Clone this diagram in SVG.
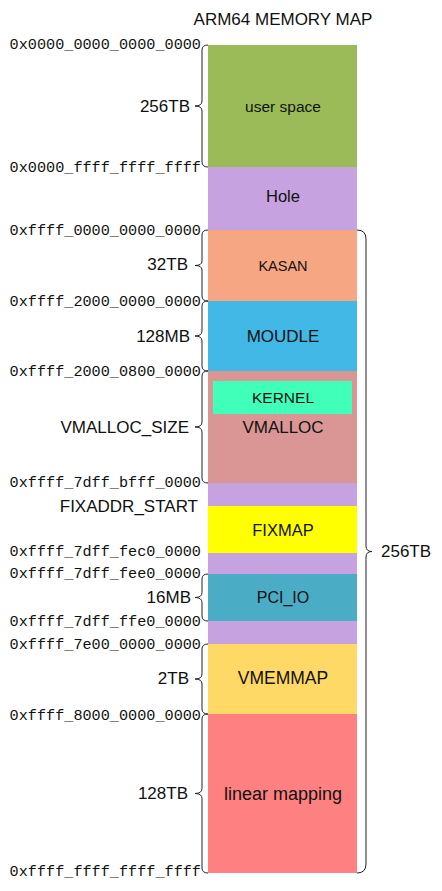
<svg xmlns="http://www.w3.org/2000/svg" width="442" height="891" viewBox="0 0 442 891">
<style>
.addr{font-family:"Liberation Mono","DejaVu Sans Mono",monospace;font-size:15.2px;fill:#111;text-anchor:end}
.size{font-family:"Liberation Sans",Arial,sans-serif;font-size:17px;fill:#111;text-anchor:end}
.lbl{font-family:"Liberation Sans",Arial,sans-serif;font-size:17px;fill:#111;text-anchor:middle}
.title{font-family:"Liberation Sans",Arial,sans-serif;font-size:17px;fill:#111;text-anchor:middle}
.brace{fill:none;stroke:#222;stroke-width:1}
</style>
<rect width="442" height="891" fill="#fff"/>
<text class="title" x="283" y="25">ARM64 MEMORY MAP</text>

<g id="user_space"><rect x="208" y="45" width="149" height="122" fill="#9BBB59"/><text class="lbl" x="283" y="112" style="font-size:15.5px">user space</text></g>
<g id="hole1"><rect x="208" y="167" width="149" height="63" fill="#C6A2E0"/><text class="lbl" x="283" y="202" style="font-size:16.5px">Hole</text></g>
<g id="kasan"><rect x="208" y="230" width="149" height="71" fill="#F7A684"/><text class="lbl" x="283" y="271" style="font-size:14.5px">KASAN</text></g>
<g id="moudle"><rect x="208" y="301" width="149" height="70" fill="#41B8E6"/><text class="lbl" x="283" y="342">MOUDLE</text></g>
<g id="vmalloc"><rect x="208" y="371" width="149" height="112" fill="#D99694"/><text class="lbl" x="283" y="433">VMALLOC</text></g>
<g id="kernel"><rect x="213" y="381" width="139" height="33" fill="#3FFFB9"/><text class="lbl" x="283" y="403" style="font-size:15.5px">KERNEL</text></g>
<g id="gap1"><rect x="208" y="483" width="149" height="23" fill="#C6A2E0"/></g>
<g id="fixmap"><rect x="208" y="506" width="149" height="47" fill="#FFFF00"/><text class="lbl" x="283" y="536" style="font-size:16.5px">FIXMAP</text></g>
<g id="gap2"><rect x="208" y="553" width="149" height="21" fill="#C6A2E0"/></g>
<g id="pci_io"><rect x="208" y="574" width="149" height="47" fill="#4BACC6"/><text class="lbl" x="283" y="603" style="font-size:16px">PCI_IO</text></g>
<g id="gap3"><rect x="208" y="621" width="149" height="23" fill="#C6A2E0"/></g>
<g id="vmemmap"><rect x="208" y="644" width="149" height="70" fill="#FFD966"/><text class="lbl" x="283" y="684" style="font-size:17.5px">VMEMMAP</text></g>
<g id="linear"><rect x="208" y="714" width="149" height="159" fill="#FF8080"/><text class="lbl" x="283" y="800" style="font-size:18px">linear mapping</text></g>

<g id="connectors">
<path class="brace" d="M208,45 Q202,45 202,50 L202,101 Q202,106 195,106 Q202,106 202,111 L202,162 Q202,167 208,167"/>
<path class="brace" d="M208,230 Q202,230 202,235 L202,261 Q202,265.5 195,265.5 Q202,265.5 202,270 L202,296 Q202,301 208,301"/>
<path class="brace" d="M208,301 Q202,301 202,306 L202,331 Q202,336 195,336 Q202,336 202,341 L202,366 Q202,371 208,371"/>
<path class="brace" d="M208,371 Q202,371 202,376 L202,422 Q202,427 195,427 Q202,427 202,432 L202,478 Q202,483 208,483"/>
<path class="brace" d="M208,574 Q202,574 202,579 L202,592.5 Q202,597.5 195,597.5 Q202,597.5 202,602.5 L202,616 Q202,621 208,621"/>
<path class="brace" d="M208,644 Q202,644 202,649 L202,674 Q202,679 195,679 Q202,679 202,684 L202,709 Q202,714 208,714"/>
<path class="brace" d="M208,714 Q202,714 202,719 L202,788.5 Q202,793.5 195,793.5 Q202,793.5 202,798.5 L202,868 Q202,873 208,873"/>
<path class="brace" d="M357,230 Q366,230 366,239 L366,546 Q366,551.5 372,551.5 Q366,551.5 366,557 L366,864 Q366,873 357,873"/>
</g>

<g id="addresses">
<text class="addr" x="201" y="49">0x0000_0000_0000_0000</text>
<text class="addr" x="201" y="172">0x0000_ffff_ffff_ffff</text>
<text class="addr" x="201" y="235">0xffff_0000_0000_0000</text>
<text class="addr" x="201" y="306">0xffff_2000_0000_0000</text>
<text class="addr" x="201" y="376">0xffff_2000_0800_0000</text>
<text class="addr" x="201" y="487">0xffff_7dff_bfff_0000</text>
<text class="addr" x="201" y="556">0xffff_7dff_fec0_0000</text>
<text class="addr" x="201" y="578">0xffff_7dff_fee0_0000</text>
<text class="addr" x="201" y="626">0xffff_7dff_ffe0_0000</text>
<text class="addr" x="201" y="649">0xffff_7e00_0000_0000</text>
<text class="addr" x="201" y="720">0xffff_8000_0000_0000</text>
<text class="addr" x="201" y="876">0xffff_ffff_ffff_ffff</text>
</g>

<g id="sizes">
<text class="size" x="190" y="112">256TB</text>
<text class="size" x="188" y="270">32TB</text>
<text class="size" x="190" y="342">128MB</text>
<text class="size" x="189" y="433">VMALLOC_SIZE</text>
<text class="size" x="198" y="512">FIXADDR_START</text>
<text class="size" x="191" y="603">16MB</text>
<text class="size" x="189" y="684">2TB</text>
<text class="size" x="188" y="799">128TB</text>
<text class="size" x="381" y="557" style="text-anchor:start">256TB</text>
</g>
</svg>
